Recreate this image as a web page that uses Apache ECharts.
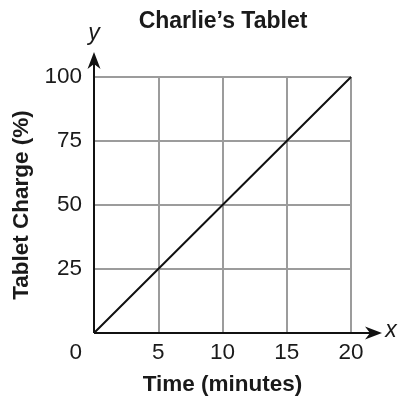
<!DOCTYPE html>
<html>
<head>
<meta charset="utf-8">
<script src="https://cdn.jsdelivr.net/npm/echarts@6/dist/echarts.min.js"></script>
<style>
html,body{margin:0;padding:0;background:#fff;}
#c{width:405px;height:403px;}
</style>
</head>
<body>
<div id="c"></div>
<script>
const chartTitle = "Charlie\u2019s Tablet";
const xAxisTitle = "Time (minutes)";
const yAxisTitle = "Tablet Charge (%)";
const timeMinutes = [0, 5, 10, 15, 20];
const chargePercent = [0, 25, 50, 75, 100];
const xTicks = [0, 5, 10, 15, 20];
const yTicks = [0, 25, 50, 75, 100];

const FONT = "Liberation Sans, Arial, Helvetica, sans-serif";
const chart = echarts.init(document.getElementById('c'), null, {renderer: 'canvas'});
const xMax = xTicks[xTicks.length - 1];
const yMax = yTicks[yTicks.length - 1];
const xStep = xTicks[1] - xTicks[0];
const yStep = yTicks[1] - yTicks[0];

chart.setOption({
  backgroundColor: '#fff',
  animation: false,
  title: {
    text: chartTitle,
    left: 218, top: 5, textAlign: 'center',
    textStyle: {fontFamily: FONT, fontSize: 23, fontWeight: 'bold', color: '#1a1a1a'}
  },
  grid: {left: 94, right: 54, top: 77, bottom: 70, containLabel: false},
  xAxis: {
    type: 'value', min: xTicks[0], max: xMax, interval: xStep,
    name: xAxisTitle, nameLocation: 'middle', nameGap: 40,
    nameTextStyle: {fontFamily: FONT, fontSize: 22.5, fontWeight: 'bold', color: '#1a1a1a'},
    axisLine: {show: false}, axisTick: {show: false},
    axisLabel: {
      fontFamily: FONT, fontSize: 22.5, color: '#1a1a1a', margin: 8,
      formatter: v => v === 0 ? '' : String(v)
    },
    splitLine: {show: true, lineStyle: {color: '#9c9c9c', width: 2}}
  },
  yAxis: {
    type: 'value', min: yTicks[0], max: yMax, interval: yStep,
    name: yAxisTitle, nameLocation: 'middle', nameGap: 60, nameRotate: 90,
    nameTextStyle: {fontFamily: FONT, fontSize: 22.5, fontWeight: 'bold', color: '#1a1a1a'},
    axisLine: {show: false}, axisTick: {show: false},
    axisLabel: {
      fontFamily: FONT, fontSize: 22.5, color: '#1a1a1a', margin: 12,
      formatter: v => v === 0 ? '' : String(v)
    },
    splitLine: {show: true, lineStyle: {color: '#9c9c9c', width: 2}}
  },
  series: [{
    type: 'line',
    data: timeMinutes.map((t, i) => [t, chargePercent[i]]),
    symbol: 'none',
    lineStyle: {color: '#111', width: 2},
    z: 5
  }]
});

const o = chart.convertToPixel({gridIndex: 0}, [0, 0]);
const xr = chart.convertToPixel({gridIndex: 0}, [xMax, 0]);
const yt = chart.convertToPixel({gridIndex: 0}, [0, yMax]);
const xTip = xr[0] + 31, yTip = yt[1] - 25;
chart.setOption({
  graphic: [
    {type: 'line', z: 100, shape: {x1: o[0], y1: o[1], x2: xTip - 10, y2: o[1]}, style: {stroke: '#111', lineWidth: 2}},
    {type: 'polygon', z: 100, shape: {points: [[xTip, o[1]], [xTip - 17, o[1] - 6.5], [xTip - 12, o[1]], [xTip - 17, o[1] + 6.5]]}, style: {fill: '#111'}},
    {type: 'line', z: 100, shape: {x1: o[0], y1: o[1], x2: o[0], y2: yTip + 10}, style: {stroke: '#111', lineWidth: 2}},
    {type: 'polygon', z: 100, shape: {points: [[o[0], yTip], [o[0] - 6.5, yTip + 17], [o[0], yTip + 12], [o[0] + 6.5, yTip + 17]]}, style: {fill: '#111'}},
    {type: 'text', z: 100, x: xTip + 9, y: o[1] - 2, style: {text: 'x', font: 'italic 23px ' + FONT, fill: '#1a1a1a', align: 'center', verticalAlign: 'middle'}},
    {type: 'text', z: 100, x: o[0], y: yTip - 18, style: {text: 'y', font: 'italic 23px ' + FONT, fill: '#1a1a1a', align: 'center', verticalAlign: 'middle'}},
    {type: 'text', z: 100, x: o[0] - 12, y: o[1] + 20, style: {text: String(xTicks[0]), font: '22.5px ' + FONT, fill: '#1a1a1a', align: 'right', verticalAlign: 'middle'}}
  ]
});
</script>
</body>
</html>
